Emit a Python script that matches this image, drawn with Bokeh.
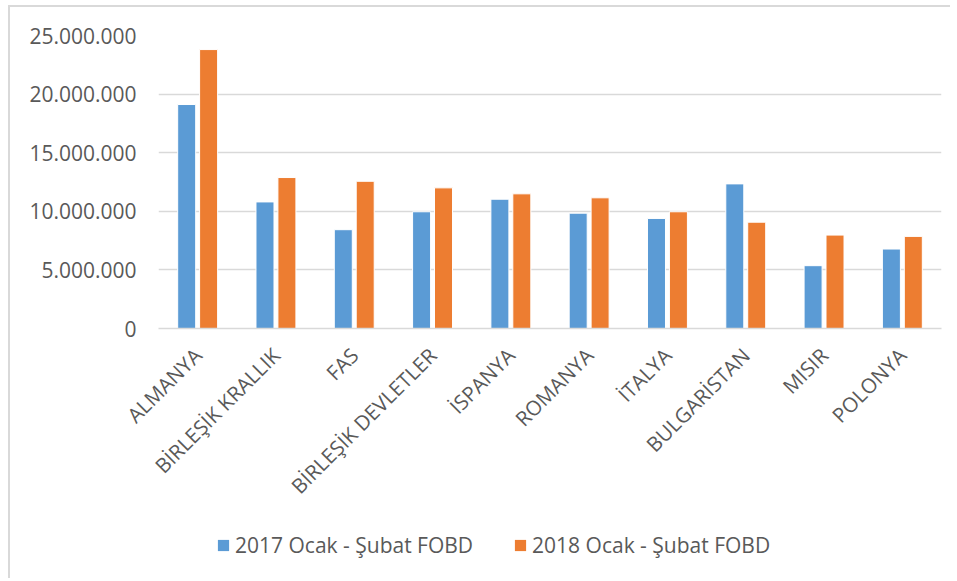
import math
from bokeh.plotting import figure
from bokeh.layouts import column
from bokeh.models import ColumnDataSource, FactorRange, CustomJSTickFormatter, Legend, LegendItem, FixedTicker, Range1d
from bokeh.transform import dodge
from bokeh.embed import file_html
from bokeh.resources import INLINE

countries = ["ALMANYA", "BİRLEŞİK KRALLIK", "FAS", "BİRLEŞİK DEVLETLER", "İSPANYA",
             "ROMANYA", "İTALYA", "BULGARİSTAN", "MISIR", "POLONYA"]
fobd_2017 = [19110000, 10800000, 8430000, 9960000, 11030000, 9840000, 9390000, 12340000, 5360000, 6780000]
fobd_2018 = [23800000, 12880000, 12560000, 12000000, 11490000, 11150000, 9960000, 9070000, 7970000, 7860000]
series_names = ["2017 Ocak - Şubat FOBD", "2018 Ocak - Şubat FOBD"]
colors = ["#5B9BD5", "#ED7D31"]
y_ticks = [0, 5000000, 10000000, 15000000, 20000000, 25000000]

source = ColumnDataSource(data=dict(country=countries, a=fobd_2017, b=fobd_2018))

FONT = "Open Sans"
GREY = "#595959"

p = figure(x_range=FactorRange(*countries, range_padding=0), y_range=(0, 25000000),
           width=940, height=505, output_backend="svg", toolbar_location=None,
           min_border_left=148, min_border_right=9, min_border_top=28, min_border_bottom=184)
p.x_range.range_padding = 0

p.vbar(x=dodge("country", -0.14, range=p.x_range), top="a", width=0.23, source=source,
       fill_color=colors[0], line_color="white", line_width=1)
p.vbar(x=dodge("country", 0.14, range=p.x_range), top="b", width=0.23, source=source,
       fill_color=colors[1], line_color="white", line_width=1)

p.outline_line_color = None
p.xgrid.grid_line_color = None
p.ygrid.grid_line_color = "#d9d9d9"
p.ygrid.grid_line_width = 1.5

p.yaxis.ticker = FixedTicker(ticks=y_ticks)
p.yaxis.formatter = CustomJSTickFormatter(code="""
    return Math.round(tick).toString().replace(/\\B(?=(\\d{3})+(?!\\d))/g, '.');
""")
p.yaxis.axis_line_color = None
p.yaxis.major_tick_line_color = None
p.yaxis.minor_tick_line_color = None
p.yaxis.major_label_text_font = FONT
p.yaxis.major_label_text_font_size = "21px"
p.yaxis.major_label_text_color = GREY
p.yaxis.major_label_standoff = 16

p.xaxis.axis_line_color = "#d9d9d9"
p.xaxis.axis_line_width = 1.5
p.xaxis.major_tick_line_color = None
p.xaxis.minor_tick_line_color = None
p.xaxis.major_label_orientation = math.pi / 4
p.xaxis.major_label_text_font = FONT
p.xaxis.major_label_text_font_size = "20.5px"
p.xaxis.major_label_text_color = GREY
p.xaxis.major_label_standoff = 17

# legend strip (zero-width bars far outside the visible y range; only the swatches show)
q = figure(width=940, height=66, output_backend="svg", toolbar_location=None,
           min_border=0, x_range=FactorRange(*countries), y_range=Range1d(-3e7, -2.9e7))
q.axis.visible = False
q.grid.visible = False
q.outline_line_color = None
l1 = q.vbar(x="country", top="a", width=0, source=source, fill_color=colors[0], line_color=None)
l2 = q.vbar(x="country", top="b", width=0, source=source, fill_color=colors[1], line_color=None)
legend = Legend(items=[LegendItem(label=series_names[0], renderers=[l1]),
                       LegendItem(label=series_names[1], renderers=[l2])],
                orientation="horizontal", location="left", margin=58,
                label_text_font=FONT, label_text_font_size="21px",
                label_text_color=GREY,
                glyph_width=14, glyph_height=14, spacing=40, label_standoff=5,
                border_line_color=None, background_fill_alpha=0)
q.add_layout(legend)

layout = column(p, q, spacing=0,
                styles={"border-left": "2px solid #d9d9d9", "border-top": "2px solid #d9d9d9",
                        "margin-left": "8px", "margin-top": "5px"})

open("out.html", "w").write(file_html(layout, INLINE))
